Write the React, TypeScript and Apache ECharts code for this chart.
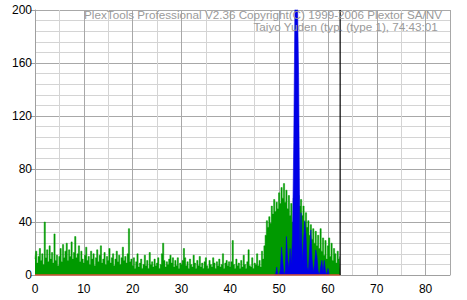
import React, { useEffect, useRef } from "react";
import * as echarts from "echarts";

const TITLE_LINE1 = "PlexTools Professional V2.36 Copyright(C) 1999-2006 Plextor SA/NV";
const TITLE_LINE2 = "Taiyo Yuden (typ. (type 1), 74:43:01";

const X_STEP = 0.25;
const GREEN_START = 0;
const greenValues: number[] = [
  // 0 - 9.75
  12, 18, 9, 14, 20, 11, 16, 8, 40, 13, 19, 10,
  22, 12, 17, 9, 31, 11, 15, 7, 14, 20, 10, 23,
  13, 18, 24, 11, 19, 14, 25, 12, 17, 29, 13, 16,
  22, 10, 18, 12,
  // 10 - 19.75
  9, 15, 21, 11, 14, 8, 18, 12, 16, 7, 13, 19, 10, 15, 22, 9, 12, 17, 8, 14,
  11, 20, 9, 13, 16, 7, 12, 18, 10, 15, 8, 13, 21, 11, 14, 9, 16, 35, 10, 12,
  // 20 - 29.75
  7, 13, 5, 10, 16, 6, 9, 12, 5, 8, 15, 7, 11, 5, 17, 8, 10, 6, 12, 7,
  9, 13, 5, 8, 16, 24, 11, 6, 10, 8, 12, 15, 9, 13, 6, 11, 7, 13, 5, 9,
  // 30 - 39.75
  8, 11, 20, 13, 7, 10, 5, 12, 8, 6, 15, 9, 5, 11, 7, 14, 6, 9, 5, 10,
  13, 7, 5, 11, 8, 6, 13, 9, 5, 10, 7, 12, 6, 8, 16, 5, 9, 11, 7, 10,
  // 40 - 47.75
  6, 10, 26, 8, 5, 12, 7, 9, 5, 11, 6, 15, 8, 5, 10, 19,
  7, 6, 13, 5, 9, 8, 16, 7, 11, 6, 18, 12, 22, 30, 41, 36,
  // 48 - 55.75
  44, 39, 52, 46, 57, 48, 55, 50, 62, 54, 66, 58, 69, 55, 64, 50,
  60, 45, 54, 40, 58, 48, 55, 42, 60, 52, 57, 45, 52, 40, 47, 36,
  // 56 - 62.5
  41, 30, 38, 27, 35, 24, 33, 22, 30, 20, 35, 18, 28, 15, 26, 12,
  22, 28, 14, 24, 11, 20, 16, 9, 18, 12, 14,
];

const BLUE_START = 49;
const blueValues: number[] = [
  0, 0, 6, 0, 0, 4, 21, 10, 0, 3, 29, 12,
  4, 20, 8, 30, 100, 210, 210, 210, 149, 20, 47, 10,
  25, 41, 30, 6, 3, 20, 34, 12, 2, 8, 19, 14,
  3, 0, 6, 11, 2, 11, 3, 0, 5, 0,
];

const END_MARK = 62.5;
const X_TICKS = [0, 10, 20, 30, 40, 50, 60, 70, 80];
const Y_TICKS = [0, 40, 80, 120, 160, 200];

const toPairs = (start: number, vals: number[]) =>
  vals.map((v, i) => [start + i * X_STEP, v]);

export default function App() {
  const ref = useRef<HTMLDivElement>(null);
  useEffect(() => {
    document.body.style.margin = "0";
    if (!ref.current) return;
    const chart = echarts.init(ref.current, undefined, { renderer: "svg" });
    const font = "Liberation Sans, Arial, sans-serif";
    chart.setOption({
      animation: false,
      backgroundColor: "#ffffff",
      grid: { left: 35, right: 17, top: 10, bottom: 25, containLabel: false },
      xAxis: {
        type: "value",
        min: 0,
        max: 85,
        interval: 10,
        axisLine: { show: true, lineStyle: { color: "#a0a0a0", width: 1 } },
        axisTick: { show: false },
        axisLabel: {
          color: "#000",
          fontSize: 12,
          fontFamily: font,
          margin: 8,
          customValues: X_TICKS,
          formatter: (v: number) => String(v),
        },
        splitLine: { show: true, lineStyle: { color: "#a8a8a8", width: 1 } },
        minorTick: { show: false, splitNumber: 2 },
        minorSplitLine: { show: true, lineStyle: { color: "#d4d4d4", width: 1 } },
      },
      yAxis: {
        type: "value",
        min: 0,
        max: 200,
        interval: 40,
        axisLine: { show: true, lineStyle: { color: "#a0a0a0", width: 1 } },
        axisTick: { show: true, length: 4, lineStyle: { color: "#a0a0a0" } },
        axisLabel: {
          color: "#000",
          fontSize: 12,
          fontFamily: font,
          margin: 3,
          customValues: Y_TICKS,
        },
        splitLine: { show: true, lineStyle: { color: "#a8a8a8", width: 1 } },
        minorTick: { show: false, splitNumber: 5 },
        minorSplitLine: { show: true, lineStyle: { color: "#d4d4d4", width: 1 } },
      },
      graphic: [
        {
          type: "text",
          right: 25,
          top: 8,
          z: 100,
          style: {
            text: TITLE_LINE1,
            fill: "#9a9a9a",
            fontSize: 11.7,
            lineHeight: 11,
            fontFamily: font,
          },
        },
        {
          type: "text",
          right: 29,
          top: 20,
          z: 100,
          style: {
            text: TITLE_LINE2,
            fill: "#9a9a9a",
            fontSize: 11.7,
            lineHeight: 11,
            fontFamily: font,
          },
        },
      ],
      series: [
        {
          type: "line",
          data: toPairs(GREEN_START, greenValues),
          symbol: "none",
          step: "middle",
          lineStyle: { color: "#009a00", width: 0.5 },
          areaStyle: { color: "#009a00", opacity: 1 },
          z: 2,
        },
        {
          type: "line",
          data: toPairs(BLUE_START, blueValues),
          symbol: "none",
          clip: true,
          lineStyle: { color: "#0000e6", width: 0.6 },
          areaStyle: { color: "#0000e6", opacity: 1 },
          z: 3,
        },
        {
          type: "line",
          data: [[0, 0], [END_MARK, 0]],
          symbol: "none",
          lineStyle: { color: "#e05030", width: 1.5 },
          z: 4,
        },
        {
          type: "line",
          data: [[END_MARK, 0], [END_MARK, 200]],
          symbol: "none",
          lineStyle: { color: "#000000", width: 1.2 },
          z: 5,
        },
      ],
    });
    return () => chart.dispose();
  }, []);
  return <div ref={ref} style={{ width: 467, height: 300 }} />;
}
